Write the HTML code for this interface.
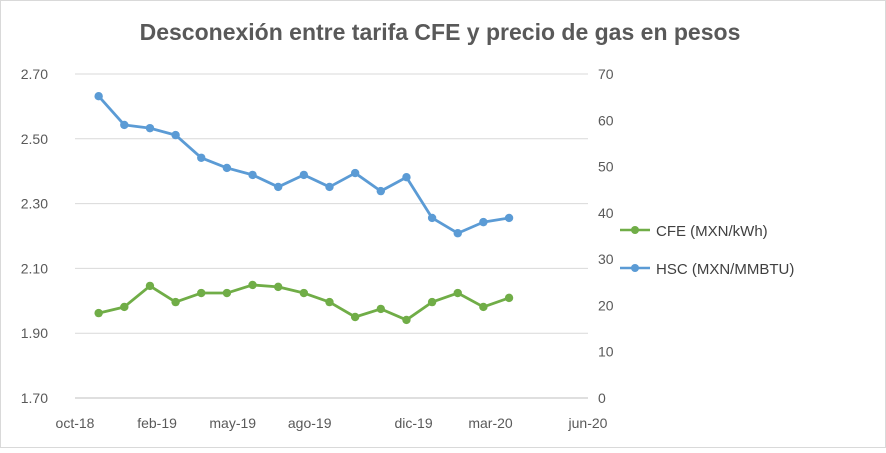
<!DOCTYPE html>
<html><head><meta charset="utf-8"><style>
body{margin:0;background:#fff;font-family:"Liberation Sans",sans-serif}
svg text{font-family:"Liberation Sans",sans-serif}
</style></head><body>
<svg width="886" height="448">
<rect x="0.5" y="0.5" width="885" height="447" fill="#fff" stroke="#d9d9d9"/>
<text x="440" y="40" text-anchor="middle" font-size="23" font-weight="bold" fill="#595959">Desconexión entre tarifa CFE y precio de gas  en pesos</text>
<g id="grid"></g><g id="axes"></g><g id="series"></g>
<g>
<line x1="620" y1="230" x2="650" y2="230" stroke="#70ad47" stroke-width="2.5"/><circle cx="635" cy="230" r="4" fill="#70ad47"/>
<text x="656" y="236" font-size="15" fill="#404040">CFE (MXN/kWh)</text>
<line x1="620" y1="268" x2="650" y2="268" stroke="#5b9bd5" stroke-width="2.5"/><circle cx="635" cy="268" r="4" fill="#5b9bd5"/>
<text x="656" y="274" font-size="15" fill="#404040">HSC (MXN/MMBTU)</text>
</g>
</svg>
<script>
const months=["nov-18","dic-18","ene-19","feb-19","mar-19","abr-19","may-19","jun-19","jul-19","ago-19","sep-19","oct-19","nov-19","dic-19","ene-20","feb-20","mar-20"];
const cfe=[1.962,1.981,2.046,1.996,2.024,2.024,2.049,2.043,2.024,1.996,1.950,1.975,1.941,1.996,2.024,1.981,2.009];
const hsc=[65.2,59.0,58.3,56.8,51.9,49.7,48.2,45.6,48.2,45.6,48.6,44.7,47.7,38.9,35.6,38.0,38.9];
const leftTicks=["1.70","1.90","2.10","2.30","2.50","2.70"];
const rightTicks=["0","10","20","30","40","50","60","70"];
const xTicks=["oct-18","feb-19","may-19","ago-19","dic-19","mar-20","jun-20"];
const xTickMonth=[-1,2.2,5.15,8.15,12.2,15.2,19];
const NS="http://www.w3.org/2000/svg";
const X0=75,X1=588,Y0=398,Y1=74;
const xs=m=>X0-2+(m+1)*(X1-X0)/20;
const yl=v=>Y0-(v-1.7)/(1.0)*(Y0-Y1);
const yr=v=>Y0-v/70*(Y0-Y1);
function mk(t,a,p){const e=document.createElementNS(NS,t);for(const k in a)e.setAttribute(k,a[k]);p.appendChild(e);return e;}
const grid=document.getElementById('grid'),axes=document.getElementById('axes'),ser=document.getElementById('series');
leftTicks.forEach(t=>{const y=yl(+t);
 if(+t>1.71){const g=mk('line',{x1:X0,x2:X1,y1:y,y2:y,stroke:'#d9d9d9'},grid);
 
 }
 const l=mk('text',{x:48,y:y+5,'text-anchor':'end','font-size':14,fill:'#595959'},axes);l.textContent=t;
 
 });
rightTicks.forEach(t=>{const y=yr(+t);const l=mk('text',{x:598,y:y+5,'font-size':14,fill:'#595959'},axes);l.textContent=t;
 
 });
const ax=mk('line',{x1:X0,x2:X1,y1:Y0,y2:Y0,stroke:'#bfbfbf'},axes);


xTicks.forEach((t,i)=>{const x=xs(xTickMonth[i])+2;
 const l=mk('text',{x:x,y:428,'text-anchor':'middle','font-size':14,fill:'#595959'},axes);l.textContent=t;
 
 });
function draw(arr,f,col,name){
 const pts=arr.map((v,i)=>xs(i)+','+f(v)).join(' ');
 const pl=mk('polyline',{points:pts,fill:'none',stroke:col,'stroke-width':2.8,'stroke-linejoin':'round'},ser);
 
 
 arr.forEach((v,i)=>{const c=mk('circle',{cx:xs(i),cy:f(v),r:4.2,fill:col},ser);
 
 });
}
draw(cfe,yl,'#70ad47','cfe');
draw(hsc,yr,'#5b9bd5','hsc');
</script>
</body></html>
